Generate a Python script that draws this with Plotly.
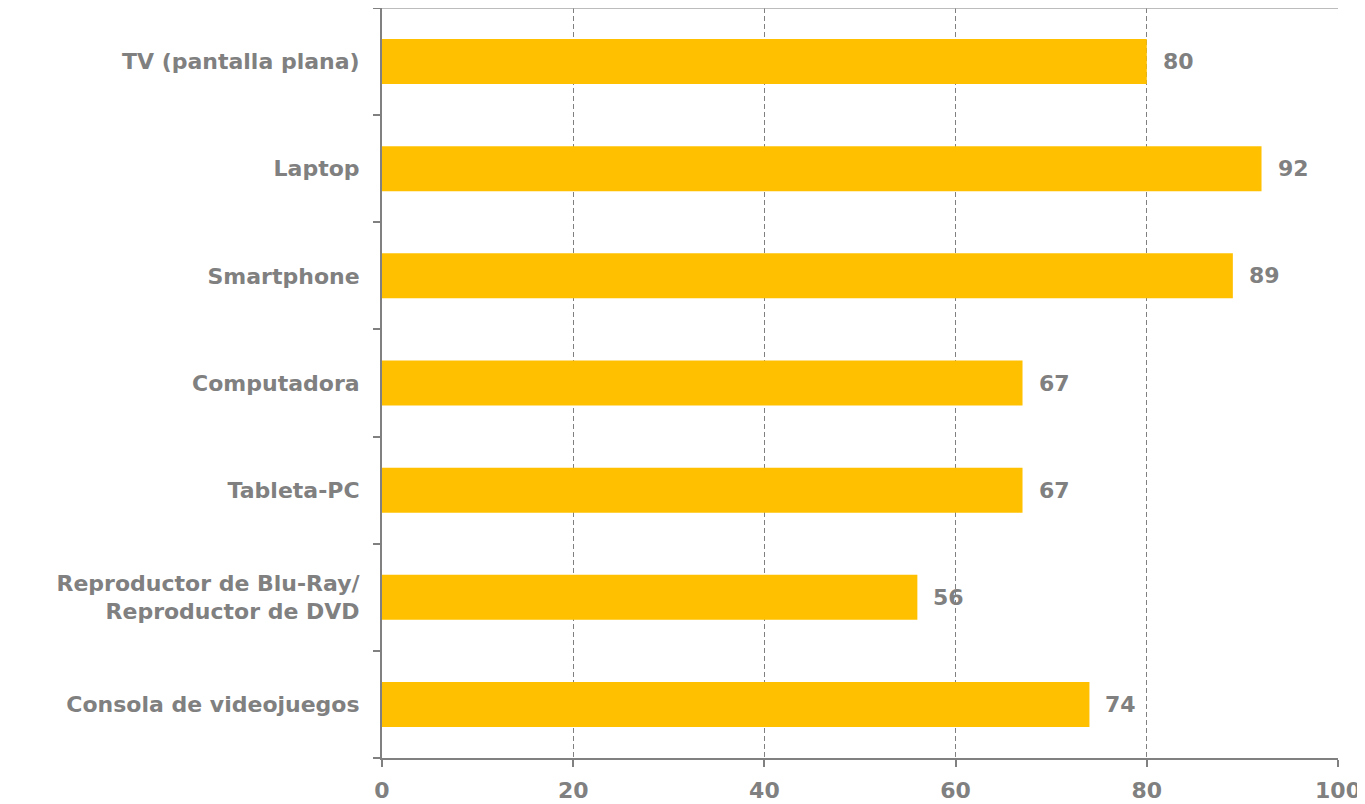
import plotly.graph_objects as go

categories = [
    "TV (pantalla plana)",
    "Laptop",
    "Smartphone",
    "Computadora",
    "Tableta-PC",
    "Reproductor de Blu-Ray/<br>Reproductor de DVD",
    "Consola de videojuegos",
]
values = [80, 92, 89, 67, 67, 56, 74]
x_ticks = [0, 20, 40, 60, 80, 100]

GRAY = "#808080"
FONT = "DejaVu Sans"
FS = 22

fig = go.Figure(
    go.Bar(
        x=values,
        y=categories,
        orientation="h",
        marker=dict(color="#FFC000", line=dict(width=0)),
        width=0.42,
        hoverinfo="x+y",
    )
)

annotations = [
    dict(
        x=v, y=c, xref="x", yref="y", text=str(v), showarrow=False,
        xanchor="left", yanchor="middle", xshift=14,
        font=dict(family=FONT, size=FS, color=GRAY, weight="bold"),
    )
    for c, v in zip(categories, values)
]

fig.update_layout(
    width=1365,
    height=804,
    margin=dict(l=374, r=35, t=0, b=54, autoexpand=False),
    plot_bgcolor="white",
    paper_bgcolor="white",
    showlegend=False,
    font=dict(family=FONT, size=FS, color=GRAY, weight="bold"),
    annotations=annotations,
    shapes=[
        dict(type="line", xref="paper", yref="paper", x0=0, x1=1, y0=1, y1=1,
             line=dict(color="#A6A6A6", width=1.5)),
    ],
)

fig.update_xaxes(
    range=[0, 100],
    tickvals=x_ticks,
    ticktext=[str(t) for t in x_ticks],
    showgrid=True,
    gridcolor=GRAY,
    griddash="5px,3px",
    gridwidth=1,
    showline=True,
    linecolor=GRAY,
    linewidth=2,
    ticks="outside",
    ticklen=7,
    tickcolor=GRAY,
    tickwidth=2,
    ticklabelstandoff=5,
    zeroline=False,
    tickfont=dict(family=FONT, size=FS, color=GRAY, weight="bold"),
)

fig.update_yaxes(
    categoryorder="array",
    categoryarray=list(reversed(categories)),
    autorange=False,
    range=[-0.5, 6.5],
    showgrid=False,
    showline=True,
    linecolor=GRAY,
    linewidth=2,
    ticks="outside",
    tickson="boundaries",
    ticklen=7,
    tickcolor=GRAY,
    tickwidth=2,
    ticklabelstandoff=16,
    tickfont=dict(family=FONT, size=FS, color=GRAY, weight="bold"),
)

fig.write_html("out.html")
